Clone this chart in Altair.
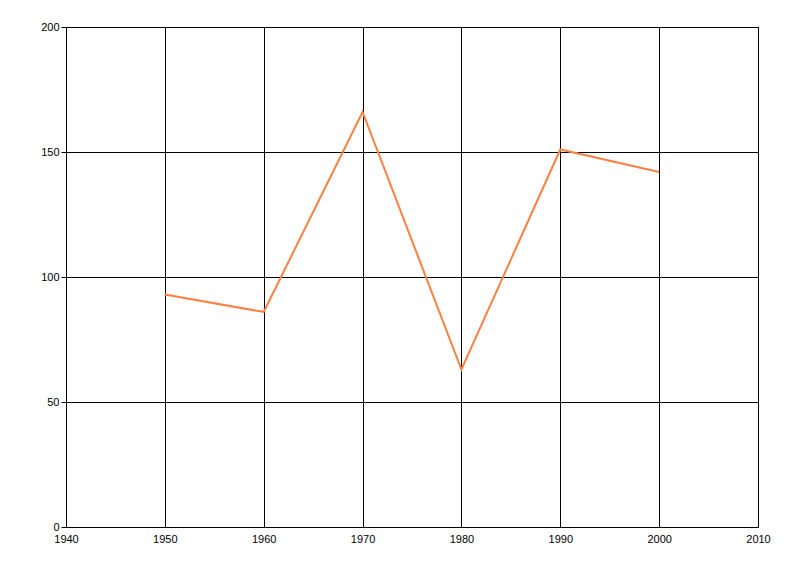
import altair as alt
import pandas as pd

years = [1950, 1960, 1970, 1980, 1990, 2000]
values = [93, 86, 166, 63, 151, 142]

df = pd.DataFrame({"year": years, "value": values})

chart = alt.Chart(df).mark_line(color="#FF7F40", strokeWidth=2).encode(
    x=alt.X("year:Q", scale=alt.Scale(domain=[1940, 2010], nice=False),
            axis=alt.Axis(values=list(range(1940, 2011, 10)), format="d", title=None,
                          grid=True, gridColor="black", gridOpacity=1, gridWidth=1,
                          ticks=False, domainColor="black", domainWidth=1,
                          labelColor="black", labelFont="Liberation Sans", labelFontSize=11,
                          labelPadding=6, labelFlush=False)),
    y=alt.Y("value:Q", scale=alt.Scale(domain=[0, 200], nice=False),
            axis=alt.Axis(values=[0, 50, 100, 150, 200], title=None,
                          grid=True, gridColor="black", gridOpacity=1, gridWidth=1,
                          ticks=True, tickSize=5, tickColor="black", domainColor="black",
                          labelColor="black", labelFont="Liberation Sans", labelFontSize=11,
                          labelPadding=2, labelFlush=False)),
).properties(
    width=692, height=500,
    autosize=alt.AutoSizeParams(type="none"),
    padding={"left": 58, "top": 19, "right": 34, "bottom": 41},
).configure_view(stroke="black", strokeWidth=1)

chart.save("out.html", embed_options={"renderer": "svg", "actions": False})
